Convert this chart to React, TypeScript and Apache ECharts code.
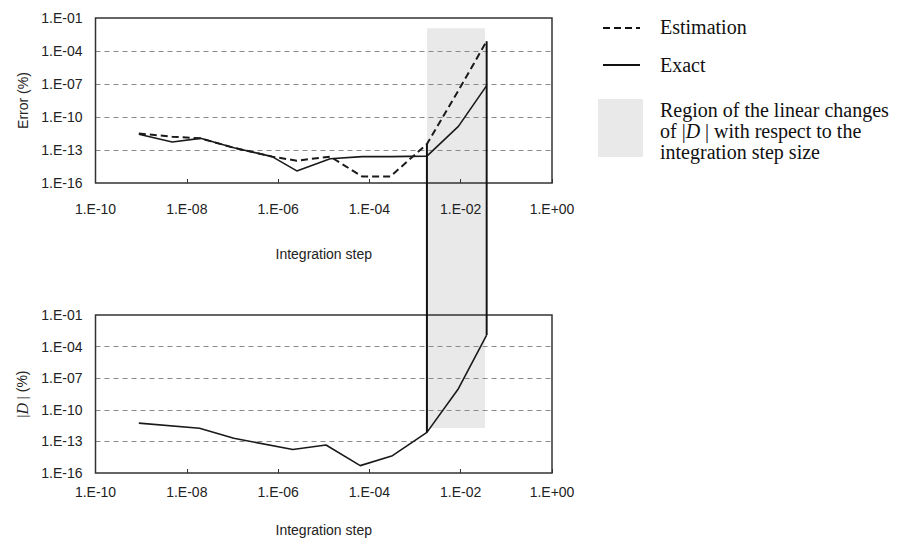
import React, { useEffect, useRef } from "react";
import * as echarts from "echarts";

// Integration step (x) for the upper panel
const stepTop = [8.9e-10, 4.8e-9, 2.0e-8, 1.07e-7, 7.4e-7, 2.57e-6, 1.38e-5, 6.9e-5, 2.9e-4, 1.82e-3, 8.9e-3, 3.7e-2];
// Error (%) – estimation (dashed) and exact (solid)
const estimationError = [3.2e-12, 1.6e-12, 1.15e-12, 1.6e-13, 2.5e-14, 1.07e-14, 2.5e-14, 4.0e-16, 4.0e-16, 3.5e-13, 2.5e-8, 7.9e-4];
const exactError = [2.7e-12, 5.4e-13, 1.15e-12, 1.6e-13, 2.5e-14, 1.26e-15, 1.6e-14, 2.5e-14, 2.5e-14, 2.8e-14, 1.4e-11, 7.1e-8];
// Integration step (x) for the lower panel
const stepBottom = [8.9e-10, 1.9e-8, 1.07e-7, 2.1e-6, 1.12e-5, 6.3e-5, 3.2e-4, 1.82e-3, 8.9e-3, 3.7e-2];
// |D| (%)
const dMagnitude = [5.4e-12, 1.8e-12, 2.0e-13, 1.7e-14, 4.5e-14, 5.0e-16, 4.4e-15, 7.2e-13, 1.0e-8, 1.26e-3];

// Axis ranges (powers of ten)
const xExpMin = -10;
const xExpMax = 0;
const xExpStep = 2;
const yExpMin = -16;
const yExpMax = -1;
const yExpStep = 3;

// Shaded region of linear changes of |D|
const regionStep = [1.82e-3, 3.4e-2];
const regionTopError = 1.15e-2;
const regionBottomD = 1.9e-12;

const legendLabels = ["Estimation", "Exact"];

const SANS = "'Liberation Sans', Arial, sans-serif";
const SERIF = "'Liberation Serif', 'Times New Roman', serif";

const fmt = (v: number) => {
  const e = Math.round(v);
  const s = e < 0 ? "-" : "+";
  return `1.E${s}${String(Math.abs(e)).padStart(2, "0")}`;
};

const toPairs = (xs: number[], ys: number[]) => xs.map((x, i) => [Math.log10(x), Math.log10(ys[i])]);

export default function App() {
  const ref = useRef<HTMLDivElement>(null);
  useEffect(() => {
    if (!ref.current) return;
    const chart = echarts.init(ref.current, null, { renderer: "svg" });
    const gridBase = {
      left: 95.5,
      width: 456.5,
      show: true,
      borderColor: "#333",
      borderWidth: 1.5,
      backgroundColor: "transparent",
      z: 5,
    };
    const xAxisBase = (gi: number, nameGap: number, margin: number) => ({
      gridIndex: gi,
      type: "value",
      min: xExpMin,
      max: xExpMax,
      interval: xExpStep,
      name: "Integration step",
      nameLocation: "middle",
      nameGap,
      nameTextStyle: { fontSize: 14, color: "#222", fontFamily: SANS },
      axisLine: { show: false },
      axisTick: { show: true, inside: true, length: 4, lineStyle: { color: "#333", width: 1 } },
      axisLabel: { formatter: fmt, margin, fontSize: 14, color: "#222", fontFamily: SANS },
      splitLine: { show: false },
    });
    const yAxisBase = (gi: number, name: string, rich?: any) => ({
      gridIndex: gi,
      type: "value",
      min: yExpMin,
      max: yExpMax,
      interval: yExpStep,
      name,
      nameLocation: "middle",
      nameRotate: 90,
      nameGap: 63,
      nameTextStyle: { fontSize: 14, color: "#222", fontFamily: SANS, rich },
      axisLine: { show: false },
      axisTick: { show: false },
      axisLabel: { formatter: fmt, margin: 13, fontSize: 14, color: "#222", fontFamily: SANS },
      splitLine: {
        show: true,
        showMinLine: false,
        showMaxLine: false,
        lineStyle: { type: [5, 4], color: "#8a8a8a", width: 1 },
      },
    });
    chart.setOption({
      animation: false,
      backgroundColor: "#fff",
      grid: [
        { ...gridBase, top: 18, height: 165 },
        { ...gridBase, top: 315, height: 158 },
      ],
      xAxis: [xAxisBase(0, 64, 19), xAxisBase(1, 50, 12)],
      yAxis: [
        yAxisBase(0, "Error (%)"),
        yAxisBase(1, "{s||}{i|D}{s| |} (%)", {
          i: { fontStyle: "italic", fontFamily: SERIF, fontSize: 16, color: "#222" },
          s: { fontFamily: SERIF, fontSize: 15, color: "#222" },
        }),
      ],
      series: [
        {
          name: legendLabels[0],
          type: "line",
          xAxisIndex: 0,
          yAxisIndex: 0,
          data: toPairs(stepTop, estimationError),
          symbol: "none",
          lineStyle: { color: "#1a1a1a", width: 2, type: [7, 4] },
          z: 3,
        },
        {
          name: legendLabels[1],
          type: "line",
          xAxisIndex: 0,
          yAxisIndex: 0,
          data: toPairs(stepTop, exactError),
          symbol: "none",
          lineStyle: { color: "#1a1a1a", width: 1.6 },
          z: 3,
        },
        {
          name: "|D|",
          type: "line",
          xAxisIndex: 1,
          yAxisIndex: 1,
          data: toPairs(stepBottom, dMagnitude),
          symbol: "none",
          lineStyle: { color: "#1a1a1a", width: 1.6 },
          z: 3,
        },
      ],
    });

    const px = (gi: number, x: number, y: number) =>
      chart.convertToPixel({ gridIndex: gi } as any, [Math.log10(x), Math.log10(y)]) as number[];

    const rTL = px(0, regionStep[0], regionTopError);
    const rBR = px(1, regionStep[1], regionBottomD);
    const nTop = stepTop.length - 1;
    const nBot = stepBottom.length - 1;
    const leftTop = px(0, stepTop[9], estimationError[9]);
    const leftBot = px(1, stepBottom[7], dMagnitude[7]);
    const rightTop = px(0, stepTop[nTop], estimationError[nTop]);
    const rightBot = px(1, stepBottom[nBot], dMagnitude[nBot]);

    const legendX = 603;
    const textX = 660;
    chart.setOption({
      graphic: [
        {
          type: "rect",
          z: -10,
          shape: { x: rTL[0], y: rTL[1], width: rBR[0] - rTL[0], height: rBR[1] - rTL[1] },
          style: { fill: "#e9e9e9" },
          silent: true,
        },
        {
          type: "line",
          z: 10,
          shape: { x1: leftTop[0], y1: leftTop[1], x2: leftBot[0], y2: leftBot[1] },
          style: { stroke: "#111", lineWidth: 2 },
        },
        {
          type: "line",
          z: 10,
          shape: { x1: rightTop[0], y1: rightTop[1], x2: rightBot[0], y2: rightBot[1] },
          style: { stroke: "#111", lineWidth: 2 },
        },
        {
          type: "line",
          shape: { x1: legendX, y1: 28, x2: legendX + 37, y2: 28 },
          style: { stroke: "#111", lineWidth: 2, lineDash: [7, 4] },
        },
        {
          type: "text",
          x: textX,
          y: 27,
          style: { text: legendLabels[0], fontSize: 20, fontFamily: SERIF, fill: "#111", verticalAlign: "middle" },
        },
        {
          type: "line",
          shape: { x1: legendX, y1: 65, x2: legendX + 37, y2: 65 },
          style: { stroke: "#111", lineWidth: 2 },
        },
        {
          type: "text",
          x: textX,
          y: 65,
          style: { text: legendLabels[1], fontSize: 20, fontFamily: SERIF, fill: "#111", verticalAlign: "middle" },
        },
        {
          type: "rect",
          shape: { x: 598, y: 99, width: 45, height: 58 },
          style: { fill: "#e9e9e9" },
        },
        {
          type: "text",
          x: textX,
          y: 99,
          style: {
            text: "Region of the linear changes\nof |{i|D} | with respect to the\nintegration step size",
            fontSize: 20,
            fontFamily: SERIF,
            fill: "#111",
            lineHeight: 21,
            verticalAlign: "top",
            rich: {
              i: { fontStyle: "italic", fontSize: 20, fontFamily: SERIF, fill: "#111", lineHeight: 21 },
            },
          },
        },
      ],
    });

    return () => chart.dispose();
  }, []);
  return (
    <div
      ref={ref}
      style={{ position: "fixed", left: 0, top: 0, width: 897, height: 549, background: "#fff" }}
    />
  );
}
